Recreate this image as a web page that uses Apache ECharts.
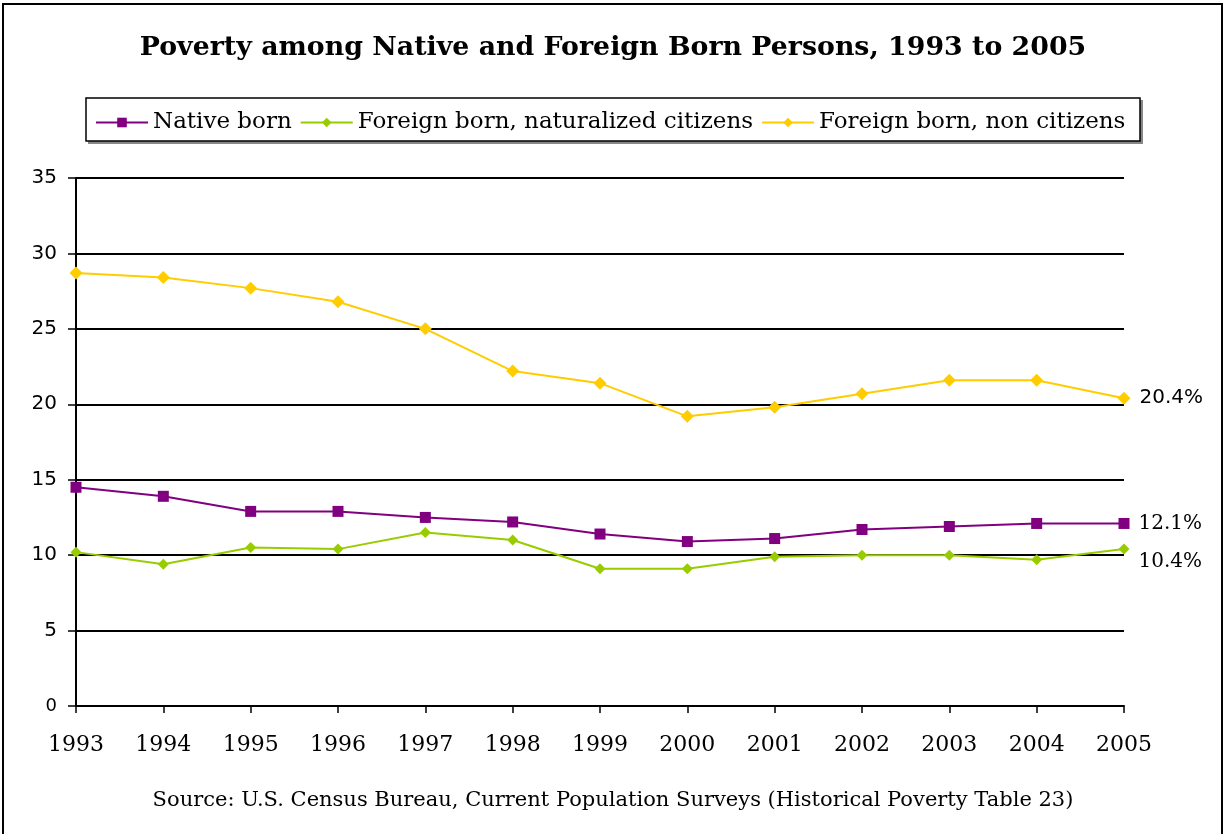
<!DOCTYPE html>
<html><head><meta charset="utf-8">
<script src="https://cdn.jsdelivr.net/npm/echarts@6/dist/echarts.min.js"></script>
<style>html,body{margin:0;padding:0;background:#fff}#c{width:1226px;height:834px}</style>
</head><body><div id="c"></div>
<script>
const years = ['1993','1994','1995','1996','1997','1998','1999','2000','2001','2002','2003','2004','2005'];
const nativeBorn = [14.5,13.9,12.9,12.9,12.5,12.2,11.4,10.9,11.1,11.7,11.9,12.1,12.1];
const naturalized = [10.2,9.4,10.5,10.4,11.5,11.0,9.1,9.1,9.9,10.0,10.0,9.7,10.4];
const nonCitizens = [28.7,28.4,27.7,26.8,25.0,22.2,21.4,19.2,19.8,20.7,21.6,21.6,20.4];
const seriesNames = ['Native born','Foreign born, naturalized citizens','Foreign born, non citizens'];
const colors = ['#800080','#99cc00','#ffcc00'];
const yTicks = [0,5,10,15,20,25,30,35];

const font = '"DejaVu Serif",serif';
const sans = '"DejaVu Sans",sans-serif';
const chart = echarts.init(document.getElementById('c'));
function lastLabel(offset, fam){
  return {show:true, position:'right', distance:9, offset:offset, color:'#000', fontFamily:fam, fontSize:20,
    formatter:p => p.dataIndex === years.length-1 ? p.value.toFixed(1)+'%' : ''};
}
chart.setOption({
  animation:false,
  backgroundColor:'#fff',
  title:{text:'Poverty among Native and Foreign Born Persons, 1993 to 2005', left:'center', top:30,
    textStyle:{fontFamily:font, fontSize:26.8, fontWeight:'bold', color:'#000'}},
  graphic:[
    {type:'rect', shape:{x:3,y:4,width:1219,height:840}, style:{fill:'none', stroke:'#000', lineWidth:2}, z:-1},
    {type:'rect', shape:{x:88,y:100,width:1055,height:44}, style:{fill:'#888'}, z:0},
    {type:'rect', shape:{x:86,y:98,width:1054,height:43}, style:{fill:'#fff', stroke:'#000', lineWidth:1.5}, z:1},
    {type:'text', left:'center', top:790, style:{text:'Source: U.S. Census Bureau, Current Population Surveys (Historical Poverty Table 23)', fontFamily:font, fontSize:21, fill:'#000'}}
  ],
  legend:{top:106, left:90, itemGap:8, itemWidth:52, itemHeight:12, z:5,
    textStyle:{fontFamily:font, fontSize:23, color:'#000'}, data:seriesNames},
  grid:{left:76, right:102, top:178, bottom:128, containLabel:false},
  xAxis:{type:'category', data:years, boundaryGap:false,
    axisLine:{lineStyle:{color:'#000', width:2}},
    axisTick:{show:true, alignWithLabel:true, length:7, lineStyle:{color:'#000', width:1.5}},
    axisLabel:{color:'#000', fontFamily:font, fontSize:22, margin:28}},
  yAxis:{type:'value', min:0, max:35, interval:5,
    axisLine:{show:true, lineStyle:{color:'#000', width:2}},
    axisTick:{show:true, length:8, lineStyle:{color:'#000', width:1.5}},
    axisLabel:{color:'#000', fontFamily:sans, fontSize:20, margin:19,
      formatter:v => !yTicks.includes(v) ? '' : (v === 0 ? '{s|0}' : String(v)),
      rich:{s:{fontFamily:sans, fontSize:18, color:'#000'}}},
    splitLine:{lineStyle:{color:'#000', width:2}}},
  series:[
    {name:seriesNames[0], type:'line', data:nativeBorn, color:colors[0], symbol:'rect', symbolSize:11,
      lineStyle:{width:2}, label:lastLabel([0,0], font)},
    {name:seriesNames[1], type:'line', data:naturalized, color:colors[1], symbol:'diamond', symbolSize:11,
      lineStyle:{width:2}, label:lastLabel([0,13], font)},
    {name:seriesNames[2], type:'line', data:nonCitizens, color:colors[2], symbol:'diamond', symbolSize:13,
      lineStyle:{width:2}, label:lastLabel([0,0], sans)}
  ]
});
</script></body></html>
